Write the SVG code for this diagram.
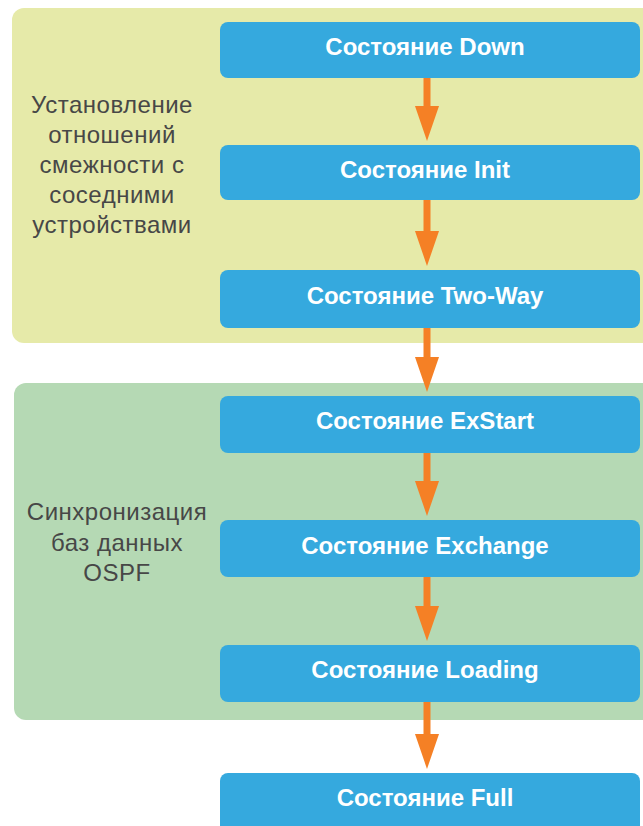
<svg xmlns="http://www.w3.org/2000/svg" width="643" height="826" viewBox="0 0 643 826">
<style>
.panel1{fill:#e6eaa9}
.panel2{fill:#b5d9b4}
.box{fill:#35a9de}
.bt{font-family:"Liberation Sans",Arial,sans-serif;font-weight:bold;font-size:24px;fill:#fff;text-anchor:middle}
.lt{font-family:"Liberation Sans",Arial,sans-serif;font-size:24px;letter-spacing:0.5px;fill:#474747;text-anchor:middle}
.arr{stroke:#f58025;stroke-width:7;fill:none}
.head{fill:#f58025}
</style>
<rect x="0" y="0" width="643" height="826" fill="#fff"/>
<g id="panel-adjacency">
<rect class="panel1" x="12" y="8" width="650" height="335" rx="12"/>
<text class="lt" x="112" y="113">Установление</text>
<text class="lt" x="112" y="143">отношений</text>
<text class="lt" x="112" y="173">смежности с</text>
<text class="lt" x="112" y="203">соседними</text>
<text class="lt" x="112" y="233">устройствами</text>
</g>
<g id="panel-sync">
<rect class="panel2" x="14" y="383" width="650" height="337" rx="12"/>
<text class="lt" x="117" y="520">Синхронизация</text>
<text class="lt" x="117" y="551">баз данных</text>
<text class="lt" x="117" y="581">OSPF</text>
</g>
<g id="connectors">
<line class="arr" x1="427" y1="78" x2="427" y2="110"/><polygon class="head" points="415,106 439,106 427,141"/>
<line class="arr" x1="427" y1="200" x2="427" y2="235"/><polygon class="head" points="415,231 439,231 427,266"/>
<line class="arr" x1="427" y1="328" x2="427" y2="361"/><polygon class="head" points="415,357 439,357 427,392"/>
<line class="arr" x1="427" y1="453" x2="427" y2="485"/><polygon class="head" points="415,481 439,481 427,516"/>
<line class="arr" x1="427" y1="577" x2="427" y2="610"/><polygon class="head" points="415,606 439,606 427,641"/>
<line class="arr" x1="427" y1="702" x2="427" y2="738"/><polygon class="head" points="415,734 439,734 427,769"/>
</g>
<g id="node-down"><rect class="box" x="220" y="22" width="420" height="56" rx="8"/><text class="bt" x="425" y="55">Состояние Down</text></g>
<g id="node-init"><rect class="box" x="220" y="145" width="420" height="55" rx="8"/><text class="bt" x="425" y="178">Состояние Init</text></g>
<g id="node-twoway"><rect class="box" x="220" y="270" width="420" height="58" rx="8"/><text class="bt" x="425" y="304">Состояние Two-Way</text></g>
<g id="node-exstart"><rect class="box" x="220" y="396" width="420" height="57" rx="8"/><text class="bt" x="425" y="429">Состояние ExStart</text></g>
<g id="node-exchange"><rect class="box" x="220" y="520" width="420" height="57" rx="8"/><text class="bt" x="425" y="554">Состояние Exchange</text></g>
<g id="node-loading"><rect class="box" x="220" y="645" width="420" height="57" rx="8"/><text class="bt" x="425" y="678">Состояние Loading</text></g>
<g id="node-full"><rect class="box" x="220" y="773" width="420" height="60" rx="8"/><text class="bt" x="425" y="806">Состояние Full</text></g>
</svg>
